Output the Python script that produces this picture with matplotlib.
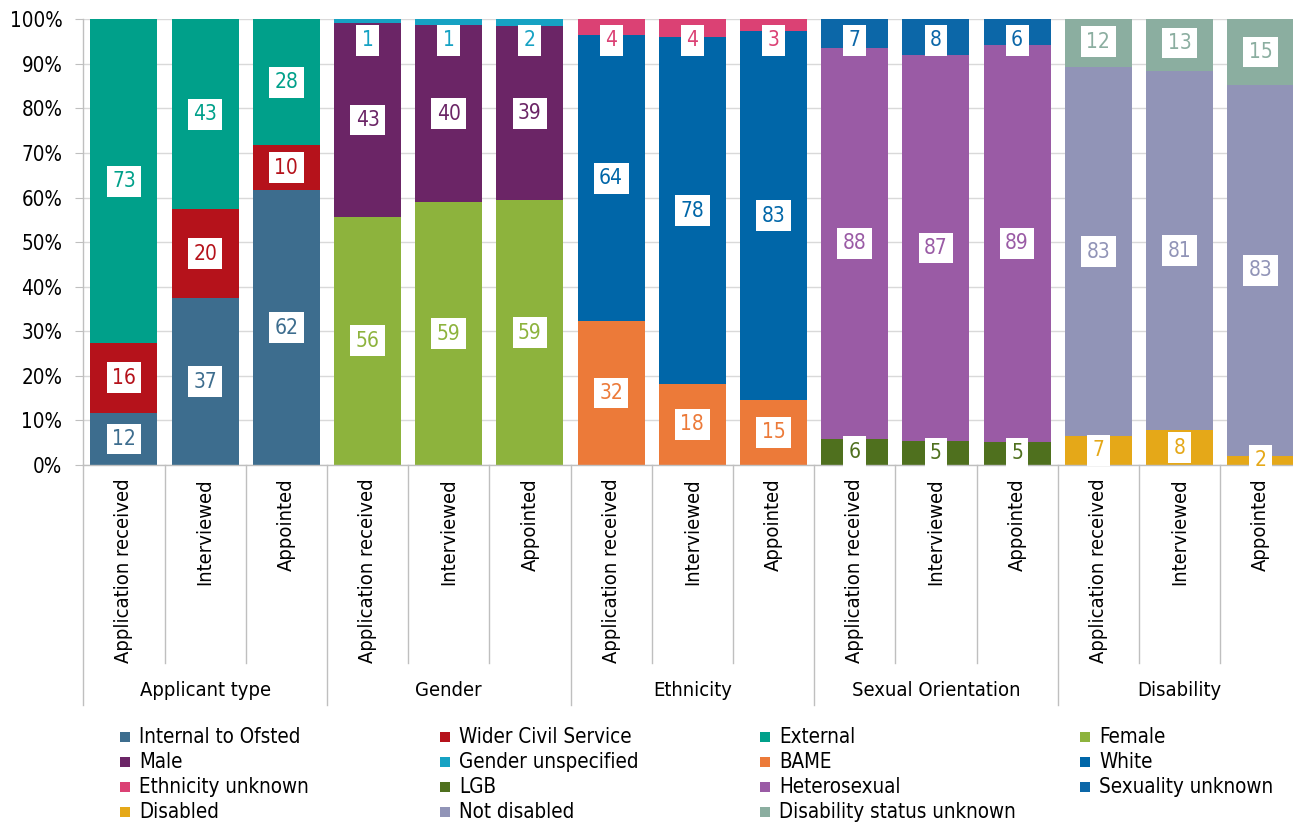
import matplotlib
matplotlib.use("Agg")
import matplotlib.pyplot as plt
import matplotlib.transforms as mtransforms
from matplotlib.patches import Rectangle

plt.rcParams['font.family'] = ['DejaVu Sans']
plt.rcParams['font.stretch'] = 'condensed'

# ---- data (percent of people at each recruitment stage) ----
groups = ["Applicant type", "Gender", "Ethnicity", "Sexual Orientation", "Disability"]
stages = ["Application received", "Interviewed", "Appointed"]

applicant_series = ["Internal to Ofsted", "Wider Civil Service", "External"]
applicant_values = [[11.7, 37.4, 61.7],
                    [15.7, 20.0, 10.0],
                    [72.6, 42.6, 28.3]]
applicant_colors = ["#3D6D8E", "#B5121B", "#00A08A"]

gender_series = ["Female", "Male", "Gender unspecified"]
gender_values = [[55.7, 59.0, 59.4],
                 [43.4, 39.7, 39.0],
                 [0.9, 1.3, 1.6]]
gender_colors = ["#8DB33D", "#6B2566", "#16A2C3"]

ethnicity_series = ["BAME", "White", "Ethnicity unknown"]
ethnicity_values = [[32.3, 18.2, 14.6],
                    [64.1, 77.8, 82.7],
                    [3.6, 4.0, 2.7]]
ethnicity_colors = ["#EC7A39", "#0066A8", "#DB4174"]

sexuality_series = ["LGB", "Heterosexual", "Sexuality unknown"]
sexuality_values = [[5.9, 5.4, 5.2],
                    [87.6, 86.6, 89.0],
                    [6.6, 8.0, 5.8]]
sexuality_colors = ["#4F701E", "#9A5BA5", "#0C67A8"]

disability_series = ["Disabled", "Not disabled", "Disability status unknown"]
disability_values = [[6.6, 7.8, 2.1],
                     [82.6, 80.6, 83.2],
                     [11.6, 12.6, 14.7]]
disability_colors = ["#E5A818", "#9194B7", "#8BAEA0"]

all_series = [
    (applicant_series, applicant_values, applicant_colors),
    (gender_series, gender_values, gender_colors),
    (ethnicity_series, ethnicity_values, ethnicity_colors),
    (sexuality_series, sexuality_values, sexuality_colors),
    (disability_series, disability_values, disability_colors),
]

yticks = list(range(0, 101, 10))

# ---- figure layout ----
W, H = 1293, 825
fig = plt.figure(figsize=(W / 100, H / 100), dpi=100)
ax_left, ax_right, ax_top, ax_bottom = 83.3, 1301.3, 19.3, 465.0
ax = fig.add_axes([ax_left / W, 1 - ax_bottom / H,
                   (ax_right - ax_left) / W, (ax_bottom - ax_top) / H])
ax_h = ax_bottom - ax_top

grey = "#BFBFBF"
bar_w = 0.825
legend_items = []

for g, (names, values, colors) in enumerate(all_series):
    xs = [3 * g + s for s in range(3)]
    bottoms = [0.0, 0.0, 0.0]
    for name, vals, col in zip(names, values, colors):
        ax.bar(xs, vals, bottom=bottoms, width=bar_w, color=col, linewidth=0, zorder=2)
        for x, b, v in zip(xs, bottoms, vals):
            yc = min(b + v / 2, 95.3)
            ax.text(x, yc, f"{v:.0f}", ha="center", va="center", fontsize=15,
                    color=col, zorder=4, clip_on=False,
                    bbox=dict(boxstyle="square,pad=0.26", fc="white", ec="none"))
        bottoms = [b + v for b, v in zip(bottoms, vals)]
        legend_items.append((name, col))

ax.set_xlim(-0.5, 14.5)
ax.set_ylim(0, 100)
ax.set_yticks(yticks)
ax.set_yticklabels([f"{t}%" for t in yticks])
ax.tick_params(axis="y", length=6, color=grey, labelsize=14.8, pad=9, labelcolor="#000000")
ax.set_xticks([])
ax.yaxis.grid(True, color="#D9D9D9", linewidth=1)
ax.set_axisbelow(True)
for side in ("top", "right"):
    ax.spines[side].set_visible(False)
for side in ("left", "bottom"):
    ax.spines[side].set_color(grey)
    ax.spines[side].set_linewidth(1)

# ---- two-level category axis ----
trans = mtransforms.blended_transform_factory(ax.transData, ax.transAxes)
def frac(py):
    return (ax_bottom - py) / ax_h

for k in range(16):
    y_end = frac(705) if k % 3 == 0 else frac(663)
    ax.plot([k - 0.5, k - 0.5], [0, y_end], transform=trans, color=grey,
            linewidth=1, clip_on=False, zorder=1)

for i in range(15):
    ax.text(i, frac(478), stages[i % 3], transform=trans, rotation=90,
            ha="center", va="top", fontsize=14.5)

for g, name in enumerate(groups):
    ax.text(3 * g + 1, frac(691), name, transform=trans, ha="center",
            va="center", fontsize=14.5)

# ---- legend (row-major, four columns) ----
for i, (name, col) in enumerate(legend_items):
    r, c = divmod(i, 4)
    px = 120 + 320 * c
    py = 737 + 25 * r
    fig.patches.append(Rectangle((px / W, 1 - (py + 5) / H), 10 / W, 10 / H,
                                 transform=fig.transFigure, facecolor=col,
                                 edgecolor="none"))
    fig.text((px + 19) / W, 1 - py / H, name, ha="left", va="center", fontsize=14.8)

fig.savefig("out.png", dpi=100)
